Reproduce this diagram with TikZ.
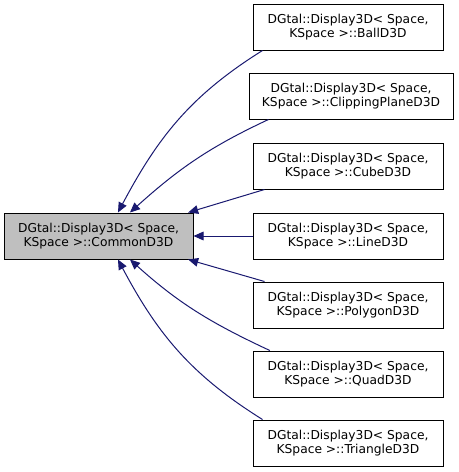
\documentclass[tikz,border=0pt]{standalone}
\usepackage{fontspec}
\setmainfont{DejaVu Sans}
\usetikzlibrary{arrows.meta}
\definecolor{DoxyEdge}{RGB}{25,25,112}
\definecolor{DoxyGray}{RGB}{191,191,191}

\begin{document}
\begin{tikzpicture}[x=0.75pt,y=-0.75pt,font=\fontsize{9.2}{11}\selectfont,
  cls/.style={draw=black,line width=0.75pt,minimum width=142.5pt,minimum height=34.5pt,inner sep=0pt,align=center},
  inh/.style={draw=DoxyEdge,line width=0.75pt,{Triangle[length=7.5pt,width=6.5pt]}-}]
\useasboundingbox (0,0) rectangle (459,472);
% base class
\node[cls,fill=DoxyGray,minimum width=141.75pt] (base) at (98.5,236) {DGtal::Display3D< Space,\\ KSpace >::CommonD3D};
% derived classes
\node[cls] (ball) at (348,27) {DGtal::Display3D< Space,\\ KSpace >::BallD3D};
\node[cls,minimum width=153pt] (clip) at (351,96) {DGtal::Display3D< Space,\\ KSpace >::ClippingPlaneD3D};
\node[cls] (cube) at (348,166) {DGtal::Display3D< Space,\\ KSpace >::CubeD3D};
\node[cls] (line) at (348,236) {DGtal::Display3D< Space,\\ KSpace >::LineD3D};
\node[cls] (poly) at (348,305) {DGtal::Display3D< Space,\\ KSpace >::PolygonD3D};
\node[cls] (quad) at (348,374) {DGtal::Display3D< Space,\\ KSpace >::QuadD3D};
\node[cls] (tri) at (348,443) {DGtal::Display3D< Space,\\ KSpace >::TriangleD3D};
% inheritance edges
\draw[inh] ([xshift=14.6pt]base.north) to[out=62,in=212] ([xshift=7.5pt]ball.south west);
\draw[inh] ([xshift=23.6pt]base.north) to[out=42,in=205] ([xshift=15pt]clip.south west);
\draw[inh] ([xshift=-4pt]base.north east) -- ([xshift=9pt]cube.south west);
\draw[inh] (base.east) -- (line.west);
\draw[inh] ([xshift=-4pt]base.south east) -- ([xshift=9pt]poly.north west);
\draw[inh] ([xshift=23.6pt]base.south) to[out=-42,in=155] ([xshift=13pt]quad.north west);
\draw[inh] ([xshift=14.6pt]base.south) to[out=-62,in=148] ([xshift=7.5pt]tri.north west);
\end{tikzpicture}
\end{document}
